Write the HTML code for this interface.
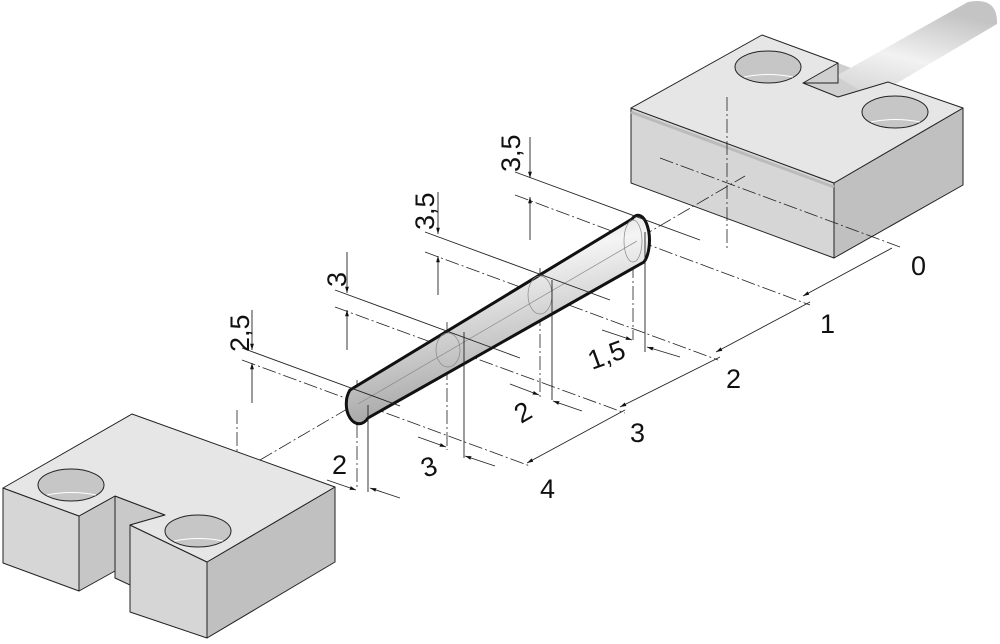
<!DOCTYPE html>
<html><head><meta charset="utf-8"><style>
html,body{margin:0;padding:0;background:#fff;}
svg{display:block;}
text{font-family:"Liberation Sans",Arial,sans-serif;font-size:27px;fill:#111;}
</style></head><body>
<svg width="1000" height="644" viewBox="0 0 1000 644" xmlns="http://www.w3.org/2000/svg">
<defs>
<linearGradient id="cab" x1="0" y1="1" x2="0.4" y2="0"><stop offset="0" stop-color="#d0d0d0"/><stop offset="0.5" stop-color="#f2f2f2"/><stop offset="1" stop-color="#c4c4c4"/></linearGradient>
<linearGradient id="pin" x1="0" y1="0" x2="0.3" y2="1"><stop offset="0" stop-color="#c4c4c4"/><stop offset="0.35" stop-color="#f4f4f4"/><stop offset="1" stop-color="#a0a0a0"/></linearGradient>
<marker id="ar" viewBox="0 0 10 10" refX="10" refY="5" markerWidth="7" markerHeight="7" orient="auto"><path d="M0,2 L10,5 L0,8 z" fill="#111"/></marker>
</defs>
<g stroke="#222" stroke-width="1" stroke-linejoin="round">
<polygon points="803,83 838,63 888,82 838,97" fill="#cfcfcf" stroke="none"/>
<path d="M836,76 L968,2 Q998,-4 997,24 L872,98 Z" fill="url(#cab)" stroke="none"/>
<polygon points="631,108 834,183 834,258 631,183" fill="#d6d6d6"/>
<polygon points="834,183 963,108 963,185 834,258" fill="#c0c0c0"/>
<path d="M631,108 L762,35 L838,63 L838,83 L803,83 L838,97 L888,82 L963,108 L834,183 Z" fill="#e6e6e6"/>
<polygon points="803,83 838,63 838,83" fill="#cfcfcf"/>
<line x1="631" y1="112" x2="834" y2="187" stroke="#bbb" stroke-width="3"/>
<ellipse cx="768" cy="67" rx="33" ry="16" fill="#c6c6c6"/>
<path d="M744,77 Q768,72 793,77" fill="none" stroke="#fff" stroke-width="1"/>
<ellipse cx="895" cy="112" rx="33" ry="16" fill="#c6c6c6"/>
<path d="M871,122 Q895,117 920,122" fill="none" stroke="#fff" stroke-width="1"/>
<polygon points="3,488 79,516 79,591 3,563" fill="#d6d6d6"/>
<polygon points="79,516 115,496 115,571 79,591" fill="#c6c6c6"/>
<polygon points="115,496 165,515 130,525 130,585 115,578" fill="#c9c9c9"/>
<polygon points="130,525 207,562 207,638 130,612" fill="#d6d6d6"/>
<polygon points="207,562 335,487 335,562 207,638" fill="#c0c0c0"/>
<polygon points="3,488 132,414 335,487 207,562 130,525 165,515 115,496 79,516" fill="#e6e6e6"/>
<ellipse cx="71" cy="485" rx="33" ry="16" fill="#c6c6c6"/>
<path d="M47,495 Q71,490 96,495" fill="none" stroke="#fff"/>
<ellipse cx="198" cy="531" rx="33" ry="16" fill="#c6c6c6"/>
<path d="M174,541 Q198,536 223,541" fill="none" stroke="#fff"/>
</g>
<g stroke="#222" stroke-width="0.8" stroke-dasharray="14,3,2,3" fill="none">
<line x1="260" y1="460" x2="745" y2="176"/>
<line x1="727" y1="97" x2="727" y2="250"/>
<line x1="660" y1="158" x2="900" y2="247"/>
<line x1="237" y1="410" x2="237" y2="452"/>
<line x1="515" y1="195" x2="810" y2="305"/>
<line x1="425" y1="252" x2="718" y2="360"/>
<line x1="335" y1="307" x2="625" y2="413"/>
<line x1="242" y1="360" x2="530" y2="466"/>
<line x1="633" y1="220" x2="633" y2="340"/><line x1="540" y1="268" x2="540" y2="398"/>
<line x1="447" y1="322" x2="447" y2="450"/><line x1="357" y1="380" x2="357" y2="488"/>
</g>
<path d="M350,390 L632,219 A10,22 0 0 1 644,262 L368,418 A9,14 0 0 1 350,390 Z" fill="url(#pin)" stroke="#111" stroke-width="3"/>
<g stroke="#888" stroke-width="0.7" fill="none">
<ellipse cx="633" cy="241" rx="9" ry="21"/>
<ellipse cx="540" cy="295" rx="12" ry="19"/>
<ellipse cx="448" cy="350" rx="12" ry="17"/>
<line x1="358" y1="404" x2="637" y2="241"/>
</g>
<g stroke="#222" stroke-width="0.9" fill="none">
<line x1="515" y1="172" x2="700" y2="240"/>
<line x1="425" y1="232" x2="610" y2="300"/>
<line x1="335" y1="290" x2="520" y2="358"/>
<line x1="242" y1="348" x2="400" y2="406"/>
<line x1="530" y1="137" x2="530" y2="178" marker-end="url(#ar)"/>
<line x1="530" y1="240" x2="530" y2="197" marker-end="url(#ar)"/>
<line x1="438" y1="192" x2="438" y2="234" marker-end="url(#ar)"/>
<line x1="438" y1="295" x2="438" y2="256" marker-end="url(#ar)"/>
<line x1="347" y1="252" x2="347" y2="293" marker-end="url(#ar)"/>
<line x1="347" y1="350" x2="347" y2="310" marker-end="url(#ar)"/>
<line x1="252" y1="310" x2="252" y2="350" marker-end="url(#ar)"/>
<line x1="252" y1="403" x2="252" y2="363" marker-end="url(#ar)"/>
<line x1="645" y1="232" x2="645" y2="352"/>
<line x1="552" y1="280" x2="552" y2="400"/>
<line x1="464" y1="332" x2="464" y2="458"/>
<line x1="368" y1="405" x2="368" y2="492"/>
<line x1="602" y1="330" x2="632" y2="340" marker-end="url(#ar)"/>
<line x1="680" y1="357" x2="647" y2="347" marker-end="url(#ar)"/>
<line x1="510" y1="384" x2="539" y2="395" marker-end="url(#ar)"/>
<line x1="582" y1="411" x2="553" y2="401" marker-end="url(#ar)"/>
<line x1="418" y1="437" x2="446" y2="447" marker-end="url(#ar)"/>
<line x1="495" y1="466" x2="465" y2="456" marker-end="url(#ar)"/>
<line x1="327" y1="480" x2="356" y2="490" marker-end="url(#ar)"/>
<line x1="400" y1="498" x2="370" y2="488" marker-end="url(#ar)"/>
<line x1="892" y1="248" x2="803" y2="296" marker-end="url(#ar)"/>
<line x1="810" y1="302" x2="716" y2="352" marker-end="url(#ar)"/>
<line x1="720" y1="357" x2="620" y2="407" marker-end="url(#ar)"/>
<line x1="625" y1="410" x2="527" y2="463" marker-end="url(#ar)"/>
</g>
<text transform="translate(520,172) rotate(-90)">3,5</text>
<text transform="translate(434,230) rotate(-90)">3,5</text>
<text transform="translate(346,287) rotate(-90)">3</text>
<text transform="translate(249,352) rotate(-90)">2,5</text>
<text transform="translate(592,370) rotate(-20)">1,5</text>
<text transform="translate(521,424) rotate(-30)">2</text>
<text transform="translate(425,478) rotate(-20)">3</text>
<text x="332" y="474">2</text>
<text x="911" y="275">0</text>
<text x="820" y="333">1</text>
<text x="726" y="388">2</text>
<text x="630" y="442">3</text>
<text x="540" y="498">4</text>
</svg>
</body></html>
